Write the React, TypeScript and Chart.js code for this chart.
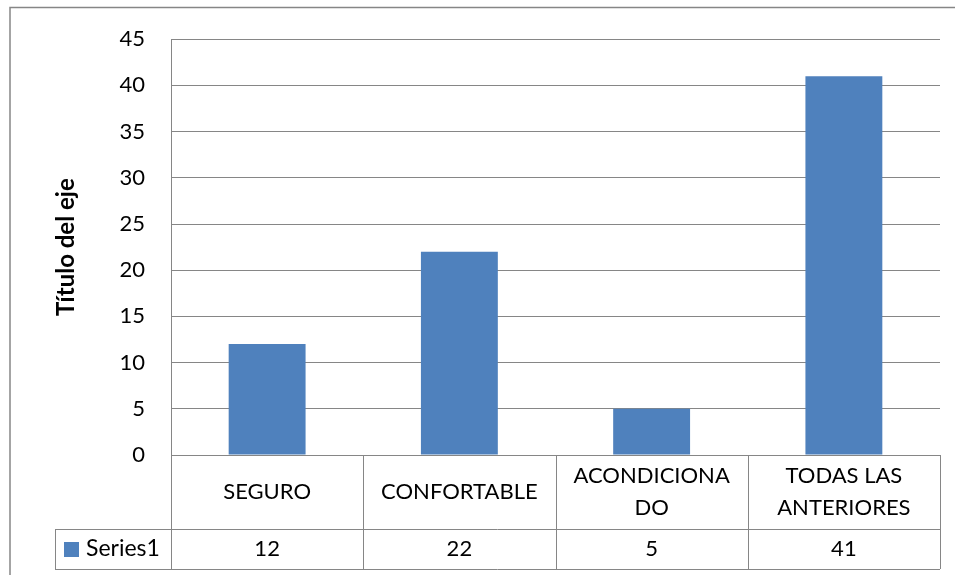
import React, { useEffect, useRef } from "react";
import { Chart, registerables } from "chart.js";

Chart.register(...registerables);

const categories: string[][] = [["SEGURO"], ["CONFORTABLE"], ["ACONDICIONA", "DO"], ["TODAS LAS", "ANTERIORES"]];
const seriesName = "Series1";
const seriesValues: number[] = [12, 22, 5, 41];
const yTicks: number[] = [0, 5, 10, 15, 20, 25, 30, 35, 40, 45];
const axisTitle = "Título del eje";

const FONT = "Lato, Carlito, Calibri, 'Open Sans', sans-serif";
const BLUE = "#4F81BD";
const GRAY = "#868686";

const tablePlugin = {
  id: "dataTable",
  afterDraw(chart: any) {
    const ctx = chart.ctx;
    const area = chart.chartArea;
    const xs = chart.scales.x;
    const n = categories.length;
    const colW = (area.right - area.left) / n;
    const row1Top = area.bottom;
    const row1Bottom = area.bottom + 74;
    const row2Bottom = row1Bottom + 40;
    const legendLeft = 55;
    ctx.save();
    // outer border
    ctx.strokeStyle = GRAY;
    ctx.lineWidth = 1.5;
    ctx.beginPath();
    ctx.moveTo(10, chart.height + 5);
    ctx.lineTo(10, 7.5);
    ctx.lineTo(chart.width + 5, 7.5);
    ctx.stroke();

    ctx.lineWidth = 1;
    ctx.strokeStyle = GRAY;
    ctx.beginPath();
    ctx.moveTo(legendLeft, row1Bottom + 0.5);
    ctx.lineTo(area.right, row1Bottom + 0.5);
    ctx.moveTo(legendLeft, row2Bottom + 0.5);
    ctx.lineTo(area.right, row2Bottom + 0.5);
    for (let i = 0; i <= n; i++) {
      const x = Math.round(area.left + i * colW) + 0.5;
      ctx.moveTo(x, row1Top);
      ctx.lineTo(x, row2Bottom);
    }
    ctx.moveTo(legendLeft + 0.5, row1Bottom);
    ctx.lineTo(legendLeft + 0.5, row2Bottom);
    ctx.stroke();

    ctx.fillStyle = "#000";
    ctx.font = `22px ${FONT}`;
    ctx.textAlign = "center";
    ctx.textBaseline = "middle";
    const lh = 32;
    categories.forEach((lines, i) => {
      const cx = xs.getPixelForValue(i);
      const cy = (row1Top + row1Bottom) / 2;
      const start = cy - ((lines.length - 1) * lh) / 2;
      lines.forEach((t, j) => ctx.fillText(t, cx, start + j * lh));
      ctx.fillText(String(seriesValues[i]), cx, (row1Bottom + row2Bottom) / 2);
    });
    const ly = (row1Bottom + row2Bottom) / 2;
    ctx.fillStyle = BLUE;
    ctx.fillRect(64, ly - 7, 15, 15);
    ctx.fillStyle = "#000";
    ctx.textAlign = "left";
    ctx.font = `23px ${FONT}`;
    ctx.fillText(seriesName, 86, ly);
    ctx.restore();
  },
};

export default function App() {
  const ref = useRef<HTMLCanvasElement | null>(null);
  useEffect(() => {
    if (!ref.current) return;
    const chart = new Chart(ref.current, {
      type: "bar",
      data: {
        labels: categories.map((c) => c.join(" ")),
        datasets: [
          {
            label: seriesName,
            data: seriesValues,
            backgroundColor: BLUE,
            barPercentage: 0.4,
            categoryPercentage: 1,
          },
        ],
      },
      options: {
        animation: false,
        responsive: true,
        maintainAspectRatio: false,
        layout: { padding: { top: 38, right: 15, bottom: 120, left: 0 } },
        plugins: { legend: { display: false }, tooltip: { enabled: false } },
        scales: {
          x: {
            display: false,
          },
          y: {
            min: 0,
            max: 45,
            afterBuildTicks: (s: any) => {
              s.ticks = yTicks.map((v) => ({ value: v }));
            },
            afterFit: (s: any) => {
              s.width = 171;
            },
            ticks: {
              font: { family: FONT, size: 22 },
              color: "#000",
              padding: 26,
            },
            grid: { color: GRAY, drawTicks: false, lineWidth: 1 },
            border: { color: GRAY, width: 1 },
            title: {
              display: true,
              text: axisTitle,
              color: "#000",
              font: { family: FONT, size: 24, weight: "bold" },
              padding: { top: 52, bottom: 0 },
            },
          },
        },
      },
      plugins: [tablePlugin],
    });
    return () => chart.destroy();
  }, []);
  return (
    <div style={{ position: "fixed", left: 0, top: 0, width: 955, height: 575, background: "#fff" }}>
      <canvas ref={ref} />
    </div>
  );
}
